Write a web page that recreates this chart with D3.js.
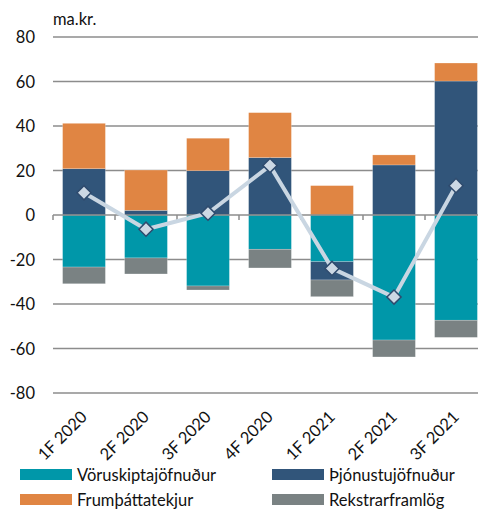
<!DOCTYPE html>
<html>
<head>
<meta charset="utf-8">
<script src="https://d3js.org/d3.v7.min.js"></script>
<style>
body { margin: 0; padding: 0; background: #fff; font-family: Lato, sans-serif; }
svg { display: block; }
</style>
</head>
<body>
<div id="chart"></div>
<script>
// data
var quarters = ['1F 2020', '2F 2020', '3F 2020', '4F 2020', '1F 2021', '2F 2021', '3F 2021'];
var voru = [-23.4, -19.3, -31.9, -15.4, -21.0, -56.2, -47.3];     // Vöruskiptajöfnuður
var thjon = [20.8, 2.1, 19.9, 25.8, -8.2, 22.5, 60.2];           // Þjónustujöfnuður
var frum = [20.4, 18.1, 14.6, 20.2, 13.2, 4.5, 8.1];             // Frumþáttatekjur
var rekstrar = [-7.5, -7.2, -1.8, -8.4, -7.5, -7.6, -7.7];        // Rekstrarframlög
var total = [10.0, -6.4, 0.8, 22.2, -24.0, -36.9, 13.2];          // line
var yTicks = [-80, -60, -40, -20, 0, 20, 40, 60, 80];

var seriesNames = ['Vöruskiptajöfnuður', 'Þjónustujöfnuður', 'Frumþáttatekjur', 'Rekstrarframlög'];
var colors = ['#0097a9', '#31557a', '#e08543', '#7a8283'];

var W = 478, H = 509;
var svg = d3.select('#chart').append('svg').attr('width', W).attr('height', H);

var x = d3.scaleBand().domain(quarters).range([53, 487]).paddingInner(0.31).paddingOuter(0.155);
var y = d3.scaleLinear().domain([-80, 80]).range([393, 37]);

var rows = quarters.map(function(q, i) {
  return {q: q, v0: voru[i], v1: thjon[i], v2: frum[i], v3: rekstrar[i]};
});
var stack = d3.stack().keys(['v0', 'v1', 'v2', 'v3']).offset(d3.stackOffsetDiverging);
var layers = stack(rows);

// gridlines
svg.append('g').selectAll('line').data(yTicks.filter(function(d){return d != 0}))
  .enter().append('line')
  .attr('x1', 53).attr('x2', W)
  .attr('y1', function(d){return y(d)}).attr('y2', function(d){return y(d)})
  .attr('stroke', '#8c8c8c').attr('stroke-width', 1.5);

// y labels
svg.append('g').selectAll('text').data(yTicks).enter().append('text')
  .attr('x', 35).attr('y', function(d){return y(d) + 6})
  .attr('text-anchor', 'end').attr('font-size', 16.5).attr('fill', '#111')
  .text(function(d){return d});

svg.append('text').attr('x', 53).attr('y', 25).attr('font-size', 16.5).attr('fill', '#111').text('ma.kr.');

// bars
svg.append('g').selectAll('g').data(layers).enter().append('g')
  .attr('fill', function(d, i){return colors[i]})
  .selectAll('rect').data(function(d){return d}).enter().append('rect')
  .attr('x', function(d){return x(d.data.q)})
  .attr('width', x.bandwidth())
  .attr('y', function(d){return y(d[1])})
  .attr('height', function(d){return Math.abs(y(d[0]) - y(d[1]))})
  .attr('stroke', 'rgba(255,255,255,0.35)').attr('stroke-width', 0.6);

// zero axis with ticks
var step = x.step();
svg.append('line').attr('x1', 53).attr('x2', W).attr('y1', y(0)).attr('y2', y(0))
  .attr('stroke', '#8c8c8c').attr('stroke-width', 1.5);
svg.append('g').selectAll('line').data(d3.range(quarters.length + 1)).enter().append('line')
  .attr('x1', function(i){return 53 + i * step}).attr('x2', function(i){return 53 + i * step})
  .attr('y1', y(0)).attr('y2', y(0) + 5)
  .attr('stroke', '#8c8c8c').attr('stroke-width', 1.5);

// line + diamonds
var cx = function(i){return x(quarters[i]) + x.bandwidth() / 2};
svg.append('path').datum(total)
  .attr('d', d3.line().x(function(d, i){return cx(i)}).y(function(d){return y(d)}))
  .attr('fill', 'none').attr('stroke', '#c9d6e2').attr('stroke-width', 4);
svg.append('g').selectAll('path').data(total).enter().append('path')
  .attr('d', d3.symbol().type(d3.symbolSquare).size(100))
  .attr('transform', function(d, i){return 'translate(' + cx(i) + ',' + y(d) + ') rotate(45)'})
  .attr('fill', '#ccd8e4').attr('stroke', '#2f4b6e').attr('stroke-width', 1.5);

// x labels
svg.append('g').selectAll('text').data(quarters).enter().append('text')
  .attr('transform', function(d){return 'translate(' + (x(d) + x.bandwidth() / 2 + 4) + ',' + 418 + ') rotate(-45)'})
  .attr('text-anchor', 'end').attr('font-size', 16.5).attr('fill', '#111')
  .text(function(d){return d});

// legend
var legPos = [[20, 469], [272, 469], [20, 494], [272, 494]];
var leg = svg.append('g').selectAll('g').data(seriesNames).enter().append('g')
  .attr('transform', function(d, i){return 'translate(' + legPos[i][0] + ',' + legPos[i][1] + ')'});
leg.append('rect').attr('width', 52).attr('height', 11).attr('fill', function(d, i){return colors[i]});
leg.append('text').attr('x', 57).attr('y', 11.5).attr('font-size', 16.5).attr('fill', '#111').text(function(d){return d});

d3.selectAll('text').attr('font-family', 'Lato, sans-serif');
</script>
</body>
</html>
